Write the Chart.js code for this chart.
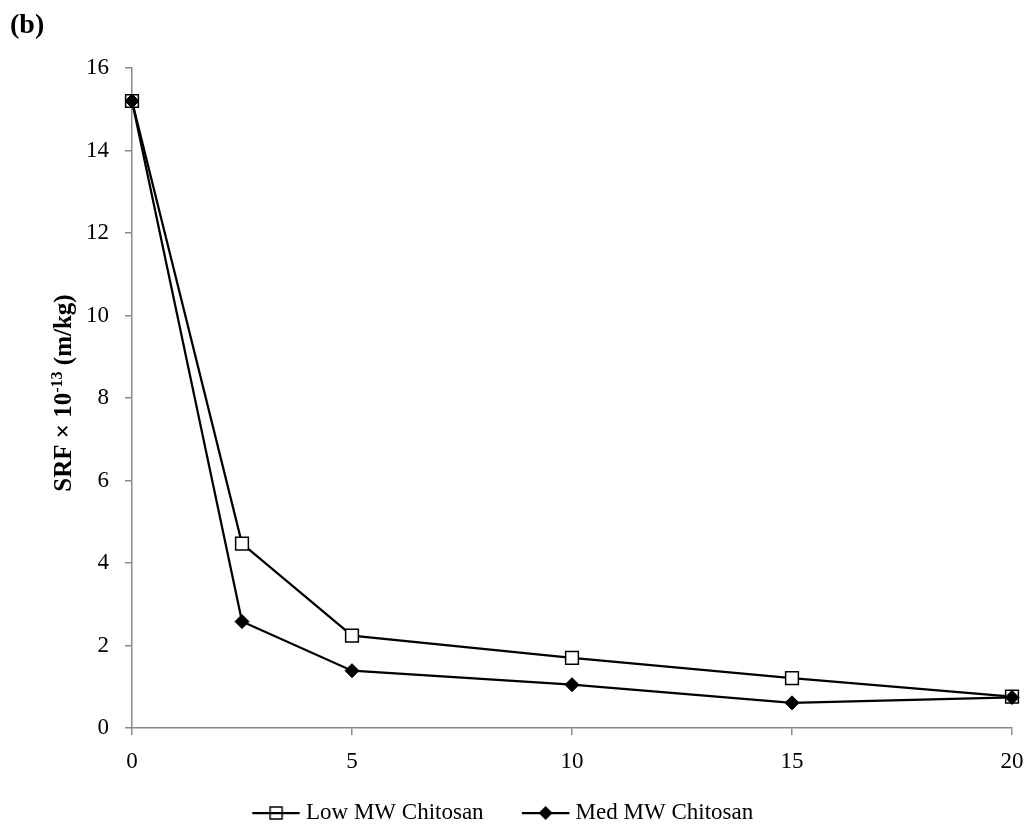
<!DOCTYPE html>
<html>
<head>
<meta charset="utf-8">
<script src="https://cdn.jsdelivr.net/npm/chart.js@4"></script>
<style>
  html, body { margin: 0; padding: 0; background: #fff; }
  #wrap { width: 1031px; height: 829px; }
</style>
</head>
<body>
<div id="wrap"><canvas id="srfChart"></canvas></div>
<script>
// chitosan dose on x, SRF x 1e-13 (m/kg) on y
const doses = [0, 2.5, 5, 10, 15, 20];
const lowMW = [15.2, 4.47, 2.24, 1.70, 1.21, 0.76];
const medMW = [15.2, 2.58, 1.39, 1.05, 0.61, 0.74];
const xTickValues = [0, 5, 10, 15, 20];
const yTickValues = [0, 2, 4, 6, 8, 10, 12, 14, 16];
const seriesNames = ["Low MW Chitosan", "Med MW Chitosan"];

const FONT = '"Liberation Serif", "Times New Roman", serif';
const GREY = "#8a8a8a";

// line+marker pictures for the legend (symbol sits in the right part)
function legendSymbol(kind) {
  const c = document.createElement("canvas");
  c.width = 82;
  c.height = 20;
  const ctx = c.getContext("2d");
  const cx = 57.75, cy = 10;
  ctx.strokeStyle = "#000";
  ctx.lineWidth = 2.25;
  ctx.beginPath();
  ctx.moveTo(34, cy);
  ctx.lineTo(81.5, cy);
  ctx.stroke();
  if (kind === "rect") {
    ctx.lineWidth = 1.5;
    ctx.strokeRect(cx - 6, cy - 6, 12, 12);
  } else {
    ctx.fillStyle = "#000";
    ctx.beginPath();
    ctx.moveTo(cx - 7, cy);
    ctx.lineTo(cx, cy - 7);
    ctx.lineTo(cx + 7, cy);
    ctx.lineTo(cx, cy + 7);
    ctx.closePath();
    ctx.fill();
  }
  return c;
}

const symbols = [legendSymbol("rect"), legendSymbol("diamond")];

// y title with superscript + panel label
const extraText = {
  id: "extraText",
  afterDraw(chart) {
    const ctx = chart.ctx;
    const main = "bold 25px " + FONT;
    const sup = "bold 16px " + FONT;
    const parts = [
      { t: "SRF \u00d7 10", f: main, dy: 0 },
      { t: "-13", f: sup, dy: -9 },
      { t: " (m/kg)", f: main, dy: 0 },
    ];
    ctx.save();
    let total = 0;
    parts.forEach((p) => {
      ctx.font = p.f;
      p.w = ctx.measureText(p.t).width;
      total += p.w;
    });
    ctx.translate(71, 393);
    ctx.rotate(-Math.PI / 2);
    ctx.fillStyle = "#000";
    ctx.textBaseline = "alphabetic";
    ctx.textAlign = "left";
    let x = -total / 2;
    parts.forEach((p) => {
      ctx.font = p.f;
      ctx.fillText(p.t, x, p.dy);
      x += p.w;
    });
    ctx.restore();

    ctx.save();
    ctx.font = "bold 28px " + FONT;
    ctx.fillStyle = "#000";
    ctx.textBaseline = "alphabetic";
    ctx.fillText("(b)", 10, 33);
    ctx.restore();
  },
};

const toPoints = (ys) => doses.map((d, i) => ({ x: d, y: ys[i] }));

new Chart(document.getElementById("srfChart"), {
  type: "line",
  data: {
    datasets: [
      {
        label: seriesNames[0],
        data: toPoints(lowMW),
        borderColor: "#000",
        borderWidth: 2.25,
        pointStyle: "rect",
        pointRadius: 9,
        pointBackgroundColor: "#fff",
        pointBorderColor: "#000",
        pointBorderWidth: 1.5,
        tension: 0,
        clip: false,
        order: 1,
      },
      {
        label: seriesNames[1],
        data: toPoints(medMW),
        borderColor: "#000",
        borderWidth: 2.25,
        pointStyle: "rectRot",
        pointRadius: 7,
        pointBackgroundColor: "#000",
        pointBorderColor: "#000",
        pointBorderWidth: 1,
        tension: 0,
        clip: false,
        order: 0,
      },
    ],
  },
  options: {
    responsive: true,
    maintainAspectRatio: false,
    animation: false,
    devicePixelRatio: 1,
    // left padding is negative so the full-width legend centres like the original
    layout: { padding: { top: 68, right: 19, bottom: -5.5, left: -34.8 } },
    scales: {
      x: {
        type: "linear",
        min: 0,
        max: 20,
        afterBuildTicks: (s) => { s.ticks = xTickValues.map((v) => ({ value: v })); },
        afterFit: (s) => {
          s.height = 63.5;
          s.paddingRight = 0; // let layout padding decide where the axis ends
        },
        grid: { drawOnChartArea: false, drawTicks: true, tickLength: 7, color: GREY, lineWidth: 1.5 },
        border: { display: true, color: GREY, width: 1.5 },
        ticks: { color: "#000", font: { family: FONT, size: 23 }, padding: 13, maxRotation: 0 },
      },
      y: {
        min: 0,
        max: 16,
        afterBuildTicks: (s) => { s.ticks = yTickValues.map((v) => ({ value: v })); },
        afterFit: (s) => { s.width = 166.8; },
        grid: { drawOnChartArea: false, drawTicks: true, tickLength: 7, color: GREY, lineWidth: 1.5 },
        border: { display: true, color: GREY, width: 1.5 },
        ticks: { color: "#000", font: { family: FONT, size: 23 }, padding: 16 },
      },
    },
    plugins: {
      tooltip: { enabled: false },
      legend: {
        position: "bottom",
        labels: {
          color: "#000",
          font: { family: FONT, size: 23 },
          usePointStyle: true,
          pointStyleWidth: 70.5,
          padding: 10,
          generateLabels: () =>
            seriesNames.map((name, i) => ({
              text: name,
              pointStyle: symbols[i],
              fillStyle: "#000",
              strokeStyle: "#000",
              lineWidth: 0,
              hidden: false,
              datasetIndex: i,
              fontColor: "#000",
            })),
        },
      },
    },
  },
  plugins: [extraText],
});
</script>
</body>
</html>
